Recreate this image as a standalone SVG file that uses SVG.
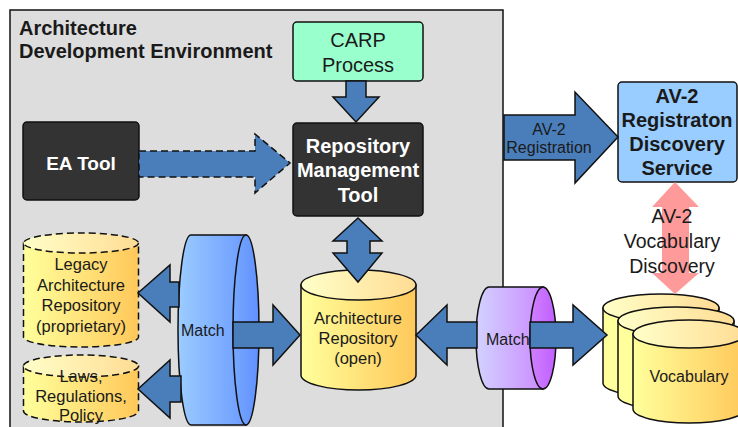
<svg xmlns="http://www.w3.org/2000/svg" width="738" height="427" viewBox="0 0 738 427">
<defs>
<linearGradient id="cylBody" x1="0" y1="0" x2="1" y2="0">
<stop offset="0" stop-color="#FFFF9C"/><stop offset="1" stop-color="#FFC85A"/>
</linearGradient>
<linearGradient id="cylTop" x1="0" y1="0" x2="1" y2="0">
<stop offset="0" stop-color="#FFFFC8"/><stop offset="1" stop-color="#FFDC94"/>
</linearGradient>
<linearGradient id="blueBody" x1="0" y1="0" x2="1" y2="0">
<stop offset="0" stop-color="#9CCCFF"/><stop offset="1" stop-color="#6C9CFF"/>
</linearGradient>
<linearGradient id="blueFace" x1="0" y1="0" x2="1" y2="0">
<stop offset="0" stop-color="#77A8FF"/><stop offset="1" stop-color="#6090FF"/>
</linearGradient>
<linearGradient id="purpBody" x1="0" y1="0" x2="1" y2="0">
<stop offset="0" stop-color="#D2D2FF"/><stop offset="1" stop-color="#CC8CFF"/>
</linearGradient>
<linearGradient id="purpFace" x1="0" y1="0" x2="1" y2="0">
<stop offset="0" stop-color="#D080FF"/><stop offset="1" stop-color="#C060FF"/>
</linearGradient>
<style>
text{font-family:"Liberation Sans",Arial,sans-serif;fill:#1a1a1a}
.b{font-weight:bold}
.w{fill:#fff}
.mid{text-anchor:middle}
.box{stroke:#111;stroke-width:1.5}
.dark{fill:#333}
.arr{fill:#4A7EBB;stroke:#111;stroke-width:1.5;stroke-linejoin:miter}
.cyl{stroke:#111;stroke-width:1.5}
.dash{stroke-dasharray:7,4}
.t20{font-size:20px}
.t16{font-size:16.5px}
.t15{font-size:16px}
</style>
</defs>

<g id="environment">
<rect x="10" y="10" width="493" height="440" fill="#DDDDDD" stroke="#111" stroke-width="1.5"/>
<text x="19" y="35" class="b t20">Architecture</text>
<text x="19" y="58" class="b t20">Development Environment</text>
</g>

<g id="carp">
<rect x="293" y="22" width="130" height="59" rx="4" fill="#99FFCC" class="box"/>
<text x="358" y="47" class="mid t20">CARP</text>
<text x="358" y="72" class="mid t20">Process</text>
</g>

<g id="rmt">
<rect x="293" y="123" width="130" height="93" rx="4" class="box dark"/>
<text x="358" y="153" class="mid b t20 w">Repository</text>
<text x="358" y="177" class="mid b t20 w">Management</text>
<text x="358" y="202" class="mid b t20 w">Tool</text>
</g>

<g id="eatool">
<rect x="23" y="122" width="116" height="78" rx="4" class="box dark"/>
<text x="81" y="170" class="mid b w" font-size="19">EA Tool</text>
</g>

<g id="av2service">
<rect x="618" y="82" width="119" height="100" rx="4" fill="#99CCFF" class="box"/>
<text x="677" y="103" class="mid b t20">AV-2</text>
<text x="677" y="127" class="mid b t20">Registraton</text>
<text x="677" y="151" class="mid b t20">Discovery</text>
<text x="677" y="175" class="mid b t20">Service</text>
</g>

<g id="legacy">
<path d="M23.5,243 V337 A57.5,10 0 0 0 138.5,337 V243 Z" fill="url(#cylBody)" class="cyl dash"/>
<ellipse cx="81" cy="243" rx="57.5" ry="10" fill="url(#cylTop)" class="cyl dash"/>
<text x="81" y="270" class="mid t16">Legacy</text>
<text x="81" y="291" class="mid t16">Architecture</text>
<text x="81" y="311" class="mid t16">Repository</text>
<text x="81" y="332" class="mid t16">(proprietary)</text>
</g>

<g id="laws">
<path d="M23.5,366 V411 A57.5,11 0 0 0 138.5,411 V366 Z" fill="url(#cylBody)" class="cyl dash"/>
<ellipse cx="81" cy="366" rx="57.5" ry="11" fill="url(#cylTop)" class="cyl dash"/>
<text x="81" y="382" class="mid t16">Laws,</text>
<text x="81" y="402" class="mid t16">Regulations,</text>
<text x="81" y="421" class="mid t16">Policy</text>
</g>

<g id="archrepo">
<path d="M301,285 V375 A57.5,15 0 0 0 416,375 V285 Z" fill="url(#cylBody)" class="cyl"/>
<ellipse cx="358.5" cy="285" rx="57.5" ry="15" fill="url(#cylTop)" class="cyl"/>
<text x="358" y="324" class="mid t16">Architecture</text>
<text x="358" y="344" class="mid t16">Repository</text>
<text x="358" y="364" class="mid t16">(open)</text>
</g>

<g id="match1">
<path d="M191,235 H246 V425 H191 A13,95 0 0 1 191,235 Z" fill="url(#blueBody)" class="cyl"/>
<ellipse cx="246" cy="330" rx="13" ry="95" fill="url(#blueFace)" class="cyl"/>
<text x="181" y="336" class="t15">Match</text>
</g>

<g id="match2">
<path d="M489,287 H543 V389 H489 A13,51 0 0 1 489,287 Z" fill="url(#purpBody)" class="cyl"/>
<ellipse cx="543" cy="338" rx="13" ry="51" fill="url(#purpFace)" class="cyl"/>
<text x="486" y="345" class="t15">Match</text>
</g>

<g id="vocabulary">
<path d="M603,308 V383 A58,14 0 0 0 719,383 V308 Z" fill="#FFFF9C" class="cyl"/>
<ellipse cx="661" cy="308" rx="58" ry="14" fill="url(#cylTop)" class="cyl"/>
<path d="M618,321 V396 A58,14 0 0 0 734,396 V321 Z" fill="#FFFF9C" class="cyl"/>
<ellipse cx="676" cy="321" rx="58" ry="14" fill="url(#cylTop)" class="cyl"/>
<path d="M633,334 V409 A56,14 0 0 0 745,409 V334 Z" fill="url(#cylBody)" class="cyl"/>
<ellipse cx="689" cy="334" rx="56" ry="14" fill="url(#cylTop)" class="cyl"/>
<text x="689" y="382" class="mid t15">Vocabulary</text>
</g>

<g id="connectors">
<polygon class="arr dash" points="139,151 255,151 255,134 290,163 255,193 255,177 139,177"/>
<polygon class="arr" points="346,81 366,81 366,97 379,97 356,122 333,97 346,97"/>
<polygon class="arr" points="358,218 382,241 370,241 370,253 382,253 358,282 333,253 347,253 347,241 333,241"/>
<polygon class="arr" points="138,293 170,265 170,282 179,282 179,307 170,307 170,322"/>
<polygon class="arr" points="138,389 170,360 170,376 181,376 181,402 170,402 170,418"/>
<polygon class="arr" points="233,322 273,322 273,305 300,335 273,365 273,348 233,348"/>
<polygon class="arr" points="416,335 447,305 447,322 477,322 477,348 447,348 447,365"/>
<polygon class="arr" points="530,322 573,322 573,305 607,335 573,365 573,348 530,348"/>
<polygon class="arr" points="504,115 575,115 575,92 618,137 575,183 575,160 504,160"/>
<text x="549" y="135" class="mid t15">AV-2</text>
<text x="549" y="153" class="mid t15">Registration</text>
<polygon fill="#FF9A9A" points="675,182 699,207 689,207 689,273 699,273 675,294 652,273 662,273 662,207 652,207"/>
<text x="672" y="223" class="mid" font-size="19.5">AV-2</text>
<text x="672" y="248" class="mid" font-size="19.5">Vocabulary</text>
<text x="672" y="273" class="mid" font-size="19.5">Discovery</text>
</g>
</svg>
